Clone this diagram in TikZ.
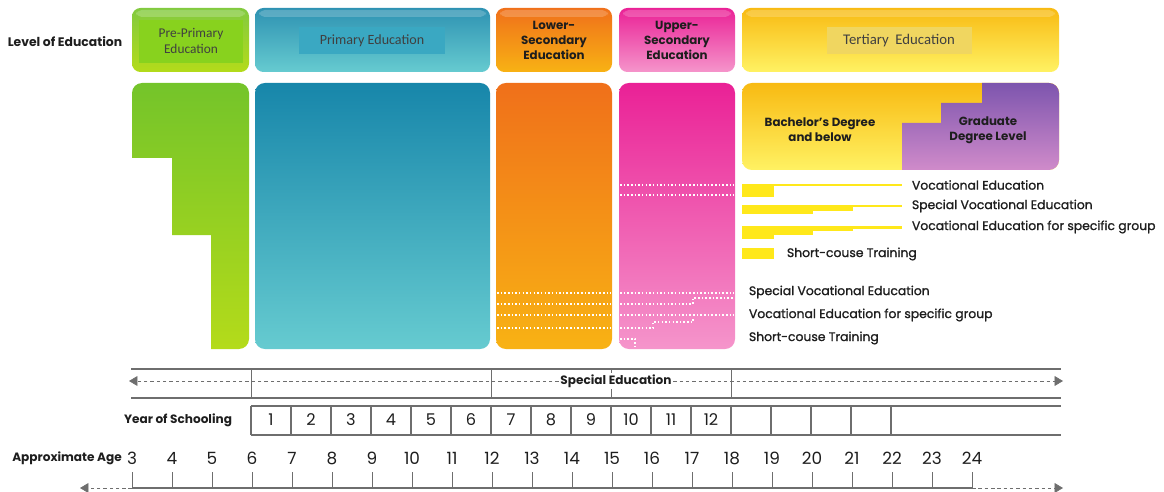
\documentclass[tikz,border=0pt]{standalone}
\usepackage{fontspec}
\setmainfont{Poppins}
\newfontfamily\calib{Carlito}
\newfontfamily\medium{Poppins}[FakeBold=1.2]
\usetikzlibrary{arrows.meta}
\definecolor{ink}{HTML}{1E1E1E}
\definecolor{rulegray}{HTML}{6E6E6E}
\definecolor{gT}{HTML}{74C42A}
\definecolor{gB}{HTML}{B4DB1A}
\definecolor{gIn}{HTML}{88D21E}
\definecolor{tT}{HTML}{1786AA}
\definecolor{tB}{HTML}{66CBD0}
\definecolor{tIn}{HTML}{3AA8C2}
\definecolor{oT}{HTML}{F0701A}
\definecolor{oB}{HTML}{F8B214}
\definecolor{pT}{HTML}{EA2196}
\definecolor{pB}{HTML}{F595CB}
\definecolor{yT}{HTML}{F8BA12}
\definecolor{yB}{HTML}{FFF263}
\definecolor{yIn}{HTML}{F0D660}
\definecolor{vT}{HTML}{7D55AE}
\definecolor{vB}{HTML}{D08BCA}
\definecolor{bar}{HTML}{FFE81A}

\begin{document}
\begin{tikzpicture}[x=0.025cm,y=-0.025cm,font=\fontsize{8}{10}\selectfont,text=ink]
\tikzset{
  hdr/.style={rounded corners=6pt},
  blk/.style={rounded corners=7pt},
  gloss/.style={fill=white,opacity=.2,rounded corners=4pt},
  tag/.style={font=\calib\fontsize{9.5}{11}\selectfont,text=ink!85,align=center},
  lab/.style={font=\fontsize{8.4}{10.6}\selectfont\bfseries,align=center},
  note/.style={font=\medium\fontsize{8.8}{10}\selectfont,anchor=west},
  num/.style={font=\fontsize{11.5}{12}\selectfont},
  dots/.style={white,line width=1.1pt,dash pattern=on 1.1pt off 1.5pt},
  axisline/.style={draw=rulegray,line width=1pt},
  dashtip/.style={rulegray,line width=.5pt,dash pattern=on 2.5pt off 2pt,
    -{Triangle[length=6pt,width=7pt]}},
}
\useasboundingbox (0,0) rectangle (1164,492);

% header row
\node[lab,font=\fontsize{8.8}{10}\selectfont\bfseries] (lvl) at (65,42) {Level of Education};
\shade[hdr,top color=gT!90!white,bottom color=gB] (132,8) rectangle (249,72);
\fill[gIn] (139,20) rectangle (243,63);
\node[tag] (pre) at (191,41) {Pre-Primary\\Education};
\shade[hdr,top color=tT!90!white,bottom color=tB] (255,8) rectangle (490,72);
\fill[tIn] (299,27) rectangle (445,54);
\node[tag,font=\calib\fontsize{10}{11}\selectfont] (prim) at (372,41) {Primary Education};
\shade[hdr,top color=oT,bottom color=oB] (496,8) rectangle (612,72);
\node[lab] (lsec) at (554,40) {Lower-\\Secondary\\Education};
\shade[hdr,top color=pT,bottom color=pB] (619,8) rectangle (735,72);
\node[lab] (usec) at (677,40) {Upper-\\Secondary\\Education};
\shade[hdr,top color=yT,bottom color=yB] (742,8) rectangle (1059,72);
\fill[yIn] (827,27) rectangle (972,54);
\node[tag,font=\calib\fontsize{10.5}{11}\selectfont] (tert) at (899,41) {Tertiary~ Education};
\foreach \l/\r in {132/249,255/490,496/612,619/735,742/1059}
  \fill[gloss] (\l+4,10) rectangle (\r-4,17);

% stage blocks
\shade[top color=gT,bottom color=gB]
  (132,158) -- (132,93) arc[start angle=180,end angle=270,radius=10]
  -- (239,83) arc[start angle=270,end angle=360,radius=10]
  -- (249,339) arc[start angle=0,end angle=90,radius=10]
  -- (211,349) -- (211,235) -- (172,235) -- (172,158) -- cycle;
\shade[blk,top color=tT,bottom color=tB] (255,83) rectangle (490,349);
\shade[blk,top color=oT,bottom color=oB] (496,83) rectangle (612,349);
\shade[blk,top color=pT,bottom color=pB] (619,83) rectangle (735,349);
\shade[blk,top color=yT,bottom color=yB] (742,83) rectangle (1059,170);
\shade[top color=vT,bottom color=vB]
  (902,170) -- (902,123) -- (941,123) -- (941,103) -- (982,103) -- (982,83)
  -- (1049,83) arc[start angle=270,end angle=360,radius=10]
  -- (1059,160) arc[start angle=0,end angle=90,radius=10] -- cycle;
\node[lab] (bach) at (820,130) {Bachelor's Degree\\and below};
\node[lab] (grad) at (988,130) {Graduate\\Degree Level};

% vocational tracks
\foreach \y in {293,304,315,328}
  \draw[dots] (497,\y) -- (611,\y);
\draw[dots] (620,185) -- (734,185);
\draw[dots] (620,195) -- (734,195);
\draw[dots] (620,293) -- (734,293);
\draw[dots] (620,304) -- (693,304) -- (693,298) -- (734,298);
\draw[dots] (620,315) -- (734,315);
\draw[dots] (620,328) -- (653,328) -- (653,322) -- (693,322) -- (693,319);
\draw[dots] (620,339) -- (635,339) -- (635,346);

\fill[bar] (742,184) rectangle (902,186.5);
\fill[bar] (742,184) rectangle (774,197);
\fill[bar] (742,205) rectangle (902,207.5);
\fill[bar] (742,205) rectangle (853,211);
\fill[bar] (742,205) rectangle (813,214);
\fill[bar] (742,226) rectangle (902,228.5);
\fill[bar] (742,226) rectangle (853,231);
\fill[bar] (742,226) rectangle (813,235);
\fill[bar] (742,226) rectangle (774,239);
\fill[bar] (742,248) rectangle (774,259);

\node[note] (voc) at (907,185) {Vocational Education};
\node[note] (svoc) at (907,206) {Special Vocational Education};
\node[note] (gvoc) at (907,227) {Vocational Education for specific group};
\node[note] (short) at (782,254) {Short-couse Training};
\node[note] (svoc2) at (744,292) {Special Vocational Education};
\node[note] (gvoc2) at (744,315) {Vocational Education for specific group};
\node[note] (short2) at (744,338) {Short-couse Training};

% special education band
\draw[axisline] (131,369) -- (1061,369);
\draw[axisline] (131,398) -- (1061,398);
\foreach \x in {251,491,611,731}
  \draw[axisline,line width=.7pt] (\x,369) -- (\x,398);
\coordinate (seL) at (129,381);
\coordinate (seR) at (1063,381);
\node[fill=white,inner sep=1pt,font=\fontsize{8.6}{9}\selectfont\bfseries] (sped) at (616,381) {Special Education};
\draw[dashtip] (sped) -- (seL);
\draw[dashtip] (sped) -- (seR);

% years of schooling
\node[lab,font=\fontsize{8.6}{10}\selectfont\bfseries] (yos) at (178,420) {Year of Schooling};
\draw[axisline] (251,406) -- (1061,406);
\draw[axisline] (251,435) -- (1061,435);
\foreach \x in {251,291,...,891}
  \draw[axisline] (\x,406) -- (\x,435);
\foreach \i in {1,...,12}
  \node[num] (y\i) at (271+40*\i-40,420) {\i};

% age scale
\node[lab,font=\fontsize{8.6}{10}\selectfont\bfseries] (age) at (67,458) {Approximate Age};
\foreach \a in {3,...,24}{
  \node[num,font=\fontsize{12}{13}\selectfont] (a\a) at (132+40*\a-120,458) {\a};
  \draw[axisline,line width=.7pt] (132+40*\a-120,472) -- (132+40*\a-120,488);
}
\draw[axisline] (132,488) -- (972,488);
\coordinate (axL) at (132,488);
\coordinate (axR) at (972,488);
\coordinate (endL) at (80,488);
\coordinate (endR) at (1063,488);
\draw[dashtip] (axL) -- (endL);
\draw[dashtip] (axR) -- (endR);
\end{tikzpicture}
\end{document}
